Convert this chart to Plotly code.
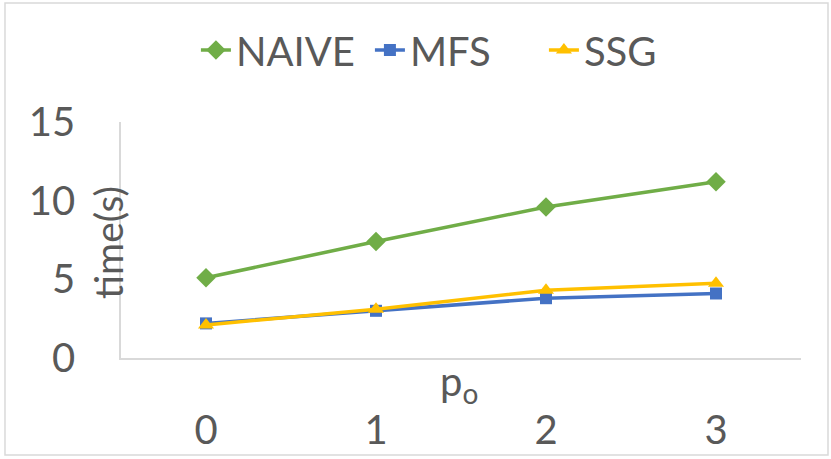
import plotly.graph_objects as go

categories = ["0", "1", "2", "3"]
naive = [5.1, 7.4, 9.6, 11.2]
mfs = [2.2, 3.0, 3.8, 4.1]
ssg = [2.1, 3.1, 4.3, 4.75]
y_ticks = [0, 5, 10, 15]

FONT = "Lato"
TXT = "#595959"

fig = go.Figure()
fig.add_trace(go.Scatter(x=categories, y=naive, name="NAIVE", mode="lines+markers",
                         line=dict(color="#70AD47", width=3.5),
                         marker=dict(symbol="diamond", size=15, color="#70AD47")))
fig.add_trace(go.Scatter(x=categories, y=mfs, name="MFS", mode="lines+markers",
                         line=dict(color="#4472C4", width=3.5),
                         marker=dict(symbol="square", size=12, color="#4472C4")))
fig.add_trace(go.Scatter(x=categories, y=ssg, name="SSG", mode="lines+markers",
                         line=dict(color="#FFC000", width=3.5),
                         marker=dict(symbol="triangle-up", size=14, color="#FFC000")))

fig.update_layout(
    width=831, height=459,
    margin=dict(l=121, r=30, t=122, b=101, autoexpand=False),
    paper_bgcolor="white", plot_bgcolor="white",
    font=dict(family=FONT, size=40, color=TXT),
    showlegend=True,
    legend=dict(orientation="h", x=0.494, xanchor="center", y=0.891, yref="container",
                yanchor="middle", font=dict(size=40, color=TXT), itemwidth=30,
                entrywidth=129, entrywidthmode="pixels",
                bgcolor="rgba(0,0,0,0)"),
    xaxis=dict(type="category", range=[-0.5, 3.5], showgrid=False, zeroline=False,
               showline=True, linecolor="#D9D9D9", linewidth=1.5, ticks="",
               automargin=False,
               tickfont=dict(size=40, color=TXT), ticklabelstandoff=36),
    yaxis=dict(range=[0, 15], tickvals=y_ticks, showgrid=False, zeroline=False,
               showline=True, linecolor="#D9D9D9", linewidth=1.5, ticks="",
               automargin=False,
               tickfont=dict(size=40, color=TXT), ticklabelstandoff=36),
    shapes=[dict(type="rect", xref="paper", yref="paper",
                 x0=-0.1706, x1=1.0397, y0=-0.411, y1=1.504,
                 line=dict(color="#D9D9D9", width=1.5), fillcolor="rgba(0,0,0,0)",
                 layer="below")],
    annotations=[
        dict(text="p<sub>o</sub>", xref="paper", yref="paper", x=0.497, y=-0.11,
             xanchor="center", yanchor="middle", showarrow=False,
             font=dict(size=40, color=TXT)),
        dict(text="time(s)", xref="paper", yref="paper", x=-0.019, y=0.488,
             xanchor="center", yanchor="middle", textangle=-90, showarrow=False,
             font=dict(size=39, color=TXT)),
    ],
)

fig.write_html("out.html", config={"displayModeBar": False},
               post_script="document.body.style.margin='0px';")
